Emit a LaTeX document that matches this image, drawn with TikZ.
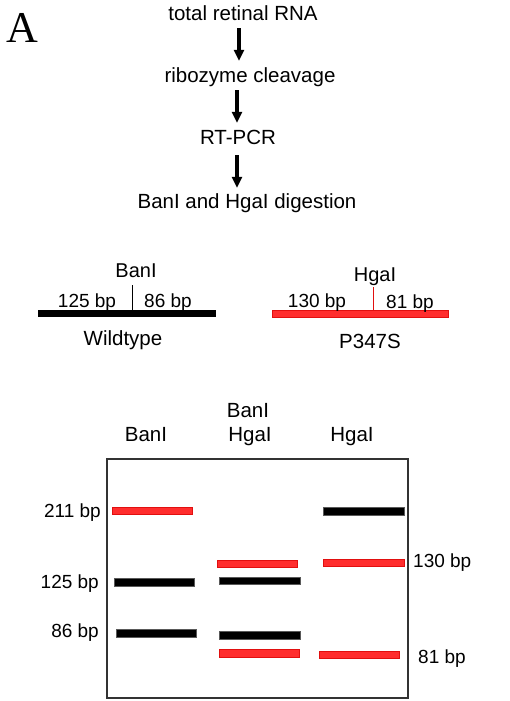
\documentclass[tikz,border=0pt]{standalone}
\usepackage{fontspec}
\setmainfont{Liberation Sans}
\newfontfamily\serifA{Liberation Serif}
\usetikzlibrary{arrows.meta}
\definecolor{bandred}{RGB}{255,45,45}
\definecolor{bandredline}{RGB}{225,15,15}
\newcommand\fmain{\fontsize{20.5}{24}\selectfont}
\newcommand\fsite{\fontsize{20}{24}\selectfont}
\newcommand\fbp{\fontsize{19}{22}\selectfont}
\begin{document}
\begin{tikzpicture}[x=1pt,y=-1pt,
  txt/.style={font=\fmain, inner sep=0pt, text height=15pt, text depth=5pt, anchor=base},
  site/.style={font=\fsite, inner sep=0pt, anchor=base},
  bplbl/.style={font=\fbp, inner sep=0pt, anchor=base},
  flowarrow/.style={line width=3.5pt, -{Triangle[length=11pt,width=10pt]}},
  blackband/.style={fill=black, draw=black!65, line width=0.6pt},
  redband/.style={fill=bandred, draw=bandredline, line width=0.8pt}]
\useasboundingbox (0,0) rectangle (510,701);

% panel letter
\node[font=\serifA\fontsize{44}{44}\selectfont, inner sep=0pt, anchor=base] (lblA) at (22.5,43) {A};

% flow
\node[txt] (t1) at (243,21) {total retinal RNA};
\node[txt] (t2) at (250,82) {ribozyme cleavage};
\node[txt] (t3) at (238,144) {RT-PCR};
\node[txt] (t4) at (247,208) {BanI and HgaI digestion};
\coordinate (ax1) at (239,0);
\coordinate (ax2) at (237,0);
\draw[flowarrow, shorten <=2pt, shorten >=6pt] (t1.south -| ax1) -- (t2.north -| ax1);
\draw[flowarrow, shorten <=3pt, shorten >=6pt] (t2.south -| ax2) -- (t3.north -| ax2);
\draw[flowarrow, shorten <=6pt, shorten >=5pt] (t3.south -| ax2) -- (t4.north -| ax2);

% maps
\fill[black] (38,310) rectangle (216,317);
\draw[line width=0.9pt] (132,285) -- (132,310);
\node[site] (mBan) at (136,277) {BanI};
\node[bplbl] (m125) at (87,307) {125 bp};
\node[bplbl] (m86) at (168,307) {86 bp};
\node[txt] (mWT) at (123,345) {Wildtype};

\draw[redband] (272,310) rectangle (448,317);
\draw[bandredline, line width=0.9pt] (373,287) -- (373,310);
\node[site] (mHga) at (375,281) {HgaI};
\node[bplbl] (m130) at (317,307) {130 bp};
\node[bplbl] (m81) at (410,308) {81 bp};
\node[txt] (mMut) at (370,348) {P347S};

% gel
\node[txt] (c1) at (146,441) {BanI};
\node[txt] (c2a) at (248,417) {BanI};
\node[txt] (c2b) at (250,441) {HgaI};
\node[txt] (c3) at (352,441) {HgaI};

\draw[line width=1.2pt, black!80] (107,459) rectangle (408,698);

\draw[redband] (112,507) rectangle (192,514);
\draw[blackband] (323,507) rectangle (404,515);
\draw[redband] (217,560) rectangle (297,567);
\draw[redband] (323,559) rectangle (404,566);
\draw[blackband] (114,578) rectangle (194,586);
\draw[blackband] (219,577) rectangle (300,584);
\draw[blackband] (116,629) rectangle (196,637);
\draw[blackband] (219,631) rectangle (300,639);
\draw[redband] (219,649) rectangle (299,657);
\draw[redband] (319,651) rectangle (399,658);

\node[bplbl, anchor=base east] (g211) at (101,517) {211 bp};
\node[bplbl, anchor=base east] (g125) at (99,588) {125 bp};
\node[bplbl, anchor=base east] (g86) at (99,637) {86 bp};
\node[bplbl, anchor=base west] (g130) at (413,567) {130 bp};
\node[bplbl, anchor=base west] (g81) at (418,663) {81 bp};
\end{tikzpicture}
\end{document}
